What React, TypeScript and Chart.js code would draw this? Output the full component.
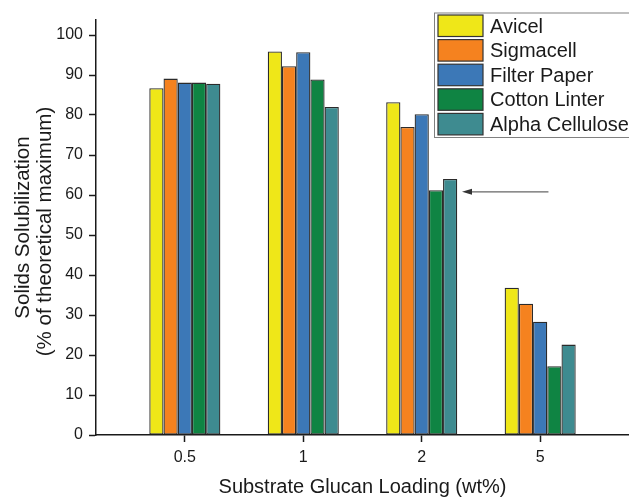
import React, { useEffect, useRef } from "react";
import { Chart, registerables } from "chart.js";

Chart.register(...registerables);

const loadingLabels = ["0.5", "1", "2", "5"];
const loadingPositions = [1, 2, 3, 4];
const seriesNames = ["Avicel", "Sigmacell", "Filter Paper", "Cotton Linter", "Alpha Cellulose"];
const seriesColors = ["#EFE718", "#F5821F", "#3C78B7", "#0F8443", "#3E8B90"];
const avicel = [86.7, 95.9, 83.2, 36.8];
const sigmacell = [89.1, 92.2, 77.0, 32.8];
const filterPaper = [88.1, 95.7, 80.2, 28.3];
const cottonLinter = [88.1, 88.9, 61.2, 17.2];
const alphaCellulose = [87.8, 82.0, 64.0, 22.6];
const seriesValues = [avicel, sigmacell, filterPaper, cottonLinter, alphaCellulose];
const yTicks = [0, 10, 20, 30, 40, 50, 60, 70, 80, 90, 100];
const yTitleLines = ["Solids Solubilization", "(% of theoretical maximum)"];
const xTitle = "Substrate Glucan Loading (wt%)";
// arrow annotation in data units: [xTip, xTail, yValue]
const arrowAnno = [3.34, 4.07, 60.8];

const FONT = "Arial, 'Liberation Sans', Helvetica, sans-serif";

const decorPlugin = {
  id: "decor",
  afterDraw(chart: any) {
    const ctx = chart.ctx as CanvasRenderingContext2D;
    const area = chart.chartArea;
    const xs = chart.scales.x;
    const ys = chart.scales.y;
    ctx.save();
    ctx.fillStyle = "#1a1a1a";
    // Y title
    const cy = (area.top + area.bottom) / 2;
    ctx.font = `20.5px ${FONT}`;
    ctx.textAlign = "center";
    ctx.textBaseline = "alphabetic";
    [[28.5, cy], [51, cy + 4]].forEach(([bx, by], i) => {
      ctx.save();
      ctx.translate(bx, by);
      ctx.rotate(-Math.PI / 2);
      ctx.fillText(yTitleLines[i], 0, 0);
      ctx.restore();
    });
    // X title
    ctx.font = `20px ${FONT}`;
    ctx.fillText(xTitle, (area.left + area.right) / 2, 493);

    // Legend
    const lx = 434, ly = 12.5, pitch = 24.6;
    ctx.fillStyle = "#ffffff";
    ctx.fillRect(lx, ly, 220, 124.5);
    ctx.strokeStyle = "#808080";
    ctx.lineWidth = 1;
    ctx.strokeRect(lx + 0.5, ly + 0.5, 220, 124.5);
    ctx.font = `20px ${FONT}`;
    ctx.textAlign = "left";
    seriesNames.forEach((name, i) => {
      const top = 15 + i * pitch;
      ctx.fillStyle = seriesColors[i];
      ctx.fillRect(438, top, 45, 21.5);
      ctx.strokeStyle = "#333333";
      ctx.lineWidth = 1.2;
      ctx.strokeRect(438, top, 45, 21.5);
      ctx.fillStyle = "#1a1a1a";
      ctx.fillText(name, 490, top + 17.5);
    });

    // Arrow
    const ax1 = xs.getPixelForValue(arrowAnno[0]);
    const ax2 = xs.getPixelForValue(arrowAnno[1]);
    const ay = ys.getPixelForValue(arrowAnno[2]);
    ctx.strokeStyle = "#666666";
    ctx.lineWidth = 1.3;
    ctx.beginPath();
    ctx.moveTo(ax1 + 6, ay);
    ctx.lineTo(ax2, ay);
    ctx.stroke();
    ctx.fillStyle = "#333333";
    ctx.beginPath();
    ctx.moveTo(ax1, ay);
    ctx.lineTo(ax1 + 10, ay - 3);
    ctx.lineTo(ax1 + 10, ay + 3);
    ctx.closePath();
    ctx.fill();
    ctx.restore();
  },
};

export default function App() {
  const ref = useRef<HTMLCanvasElement | null>(null);
  useEffect(() => {
    if (!ref.current) return;
    const chart = new Chart(ref.current, {
      type: "bar",
      data: {
        datasets: seriesNames.map((name, i) => ({
          label: name,
          data: seriesValues[i].map((v, j) => ({ x: loadingPositions[j], y: v })),
          backgroundColor: seriesColors[i],
          borderColor: "#2b2b2b",
          borderWidth: 1.3,
          borderSkipped: false,
          barPercentage: 1,
          categoryPercentage: 0.6,
        })),
      },
      options: {
        animation: false,
        responsive: false,
        devicePixelRatio: 1,
        layout: { padding: { top: 20, left: 0, right: 0, bottom: 0 } },
        plugins: { legend: { display: false }, tooltip: { enabled: false }, title: { display: false } },
        scales: {
          x: {
            type: "linear",
            min: 0.25,
            max: 4.75,
            offset: false,
            afterBuildTicks: (axis: any) => {
              axis.ticks = loadingPositions.map((v) => ({ value: v }));
            },
            afterFit: (scale: any) => {
              scale.height = 63;
            },
            grid: { display: true, drawOnChartArea: false, drawTicks: true, tickLength: 7, tickColor: "#1a1a1a", tickWidth: 1.5, offset: false },
            border: { display: true, color: "#1a1a1a", width: 1.5 },
            ticks: {
              autoSkip: false,
              maxRotation: 0,
              padding: 6,
              color: "#1a1a1a",
              font: { family: FONT, size: 16 },
              callback: (value: any) => {
                const idx = loadingPositions.indexOf(Number(value));
                return idx >= 0 ? loadingLabels[idx] : "";
              },
            },
          },
          y: {
            min: 0,
            max: 103.75,
            afterBuildTicks: (axis: any) => {
              axis.ticks = yTicks.map((v) => ({ value: v }));
            },
            afterFit: (scale: any) => {
              scale.width = 96;
            },
            grid: { display: true, drawOnChartArea: false, drawTicks: true, tickLength: 7, tickColor: "#1a1a1a", tickWidth: 1.5 },
            border: { display: true, color: "#1a1a1a", width: 1.5 },
            ticks: {
              padding: 6,
              color: "#1a1a1a",
              font: { family: FONT, size: 16 },
            },
          },
        },
      } as any,
      plugins: [decorPlugin],
    });
    return () => chart.destroy();
  }, []);
  return (
    <div style={{ position: "absolute", left: 0, top: 0, width: 629, height: 498, background: "#fff" }}>
      <canvas ref={ref} width={629} height={498} style={{ width: 629, height: 498, display: "block" }} />
    </div>
  );
}
